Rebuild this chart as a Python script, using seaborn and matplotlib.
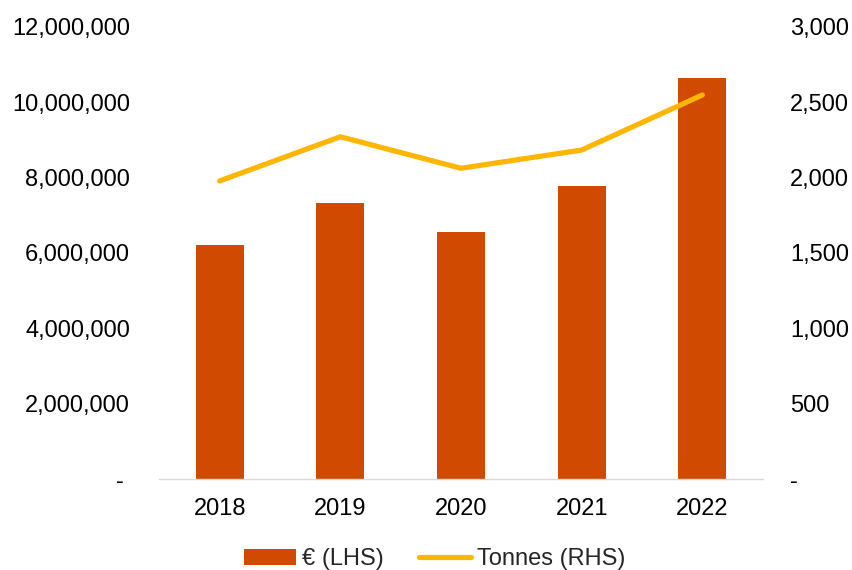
import numpy as np
import pandas as pd
import matplotlib
matplotlib.use("Agg")
import matplotlib.pyplot as plt
from matplotlib.ticker import FuncFormatter, MultipleLocator
from matplotlib.patches import Patch
from matplotlib.lines import Line2D
import seaborn as sns

years = ["2018", "2019", "2020", "2021", "2022"]
value_eur = [6_210_000, 7_330_000, 6_550_000, 7_770_000, 10_650_000]
tonnes = [1977, 2270, 2061, 2182, 2547]

bar_color = "#D04A02"
line_color = "#FFB600"

sns.set_theme(style="white")
plt.rcParams["font.family"] = ["Liberation Sans", "DejaVu Sans"]
plt.rcParams["font.size"] = 17

df = pd.DataFrame({"year": years, "eur": value_eur, "tonnes": tonnes})
df["pos"] = np.arange(len(df))

fig = plt.figure(figsize=(8.53, 5.70), dpi=100)
ax = fig.add_axes([0.1868, 0.1596, 0.8941 - 0.1868, 0.9532 - 0.1596])

sns.barplot(data=df, x="year", y="eur", color=bar_color, saturation=1,
            width=0.4, linewidth=0, ax=ax)

ax2 = ax.twinx()
sns.lineplot(data=df, x="pos", y="tonnes", color=line_color, linewidth=3.75,
             solid_capstyle="round", solid_joinstyle="round", ax=ax2)

ax.set_xlim(-0.5, len(years) - 0.5)
ax.set_ylim(0, 12_000_000)
ax2.set_ylim(0, 3000)
ax.yaxis.set_major_locator(MultipleLocator(2_000_000))
ax2.yaxis.set_major_locator(MultipleLocator(500))

ax.yaxis.set_major_formatter(FuncFormatter(lambda v, p: "- " if v == 0 else f"{v:,.0f}"))
ax2.yaxis.set_major_formatter(FuncFormatter(lambda v, p: "-" if v == 0 else f"{v:,.0f}"))

for a in (ax, ax2):
    a.set_xlabel("")
    a.set_ylabel("")
    for side in ("left", "right", "top", "bottom"):
        a.spines[side].set_visible(False)
    a.grid(False)

ax.spines["bottom"].set_visible(True)
ax.spines["bottom"].set_color("#D9D9D9")
ax.spines["bottom"].set_linewidth(1.0)

ax.tick_params(axis="y", length=0, pad=21, labelsize=17, colors="black")
ax2.tick_params(axis="y", length=0, pad=19.5, labelsize=17, colors="black")
ax.tick_params(axis="x", length=0, pad=14, labelsize=17, colors="black")
ax2.tick_params(axis="x", length=0)

handles = [Patch(facecolor=bar_color, edgecolor="none", label="€ (LHS)"),
           Line2D([0], [0], color=line_color, linewidth=3.75,
                  solid_capstyle="round", label="Tonnes (RHS)")]
fig.legend(handles=handles, loc="center", bbox_to_anchor=(0.5095, 0.0185),
           ncol=2, frameon=False, fontsize=17, handlelength=2.2,
           handleheight=0.62, handletextpad=0.25, columnspacing=1.5,
           borderaxespad=0, borderpad=0)

fig.savefig("out.png", dpi=100, facecolor="white")
